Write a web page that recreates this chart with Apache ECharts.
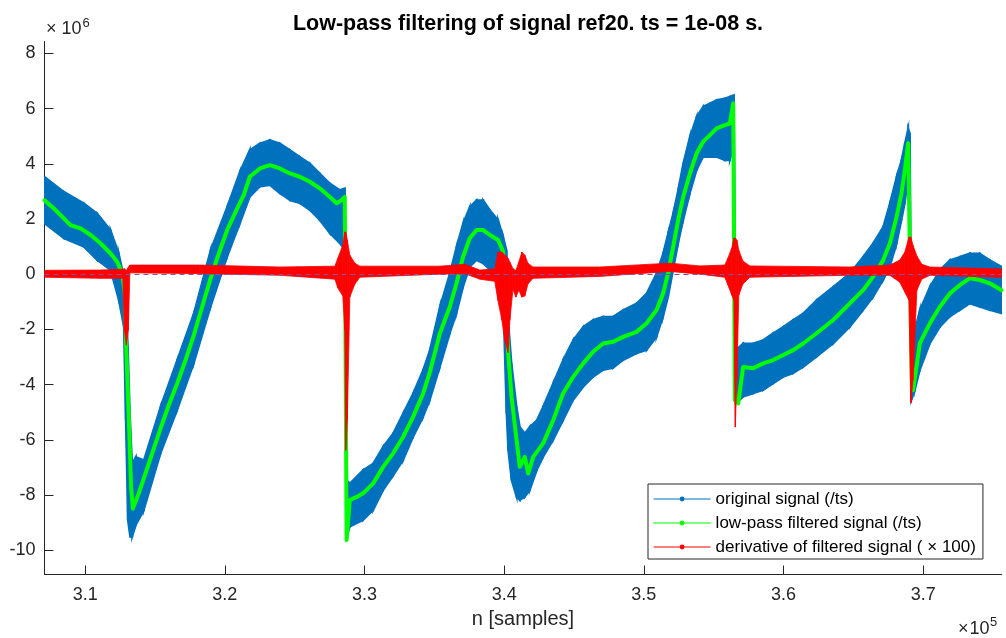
<!DOCTYPE html>
<html>
<head>
<meta charset="utf-8">
<script src="https://cdn.jsdelivr.net/npm/echarts@6/dist/echarts.min.js"></script>
<style>html,body{margin:0;padding:0;background:#fff}#c{width:1006px;height:638px}</style>
</head>
<body>
<div id="c"></div>
<script>
// ---- Tick labels (x in units of 1e5 samples, y in units of 1e6) ----
const xTicks = [3.1, 3.2, 3.3, 3.4, 3.5, 3.6, 3.7];
const yTicks = [-10, -8, -6, -4, -2, 0, 2, 4, 6, 8];

// ---- Low-pass filtered signal (/ts), x1e6 ----
const greenX = [3.0709,3.0776,3.0847,3.0895,3.0967,3.1039,3.1110,3.1182,3.1229,3.1265,
  3.1284,3.1294,3.1313,3.1329,3.1342,3.1384,3.1420,3.1480,3.1540,3.1599,
  3.1659,3.1719,3.1778,3.1838,3.1898,3.1957,3.2017,3.2077,3.2136,3.2179,
  3.2251,3.2322,3.2394,3.2466,3.2537,3.2609,3.2680,3.2752,3.2800,3.2836,
  3.2859,3.2872,3.2895,3.2943,3.2990,3.3062,3.3134,3.3205,3.3277,3.3348,
  3.3420,3.3468,3.3540,3.3611,3.3659,3.3706,3.3754,3.3802,3.3850,3.3898,
  3.3957,3.3993,3.4017,3.4029,3.4053,3.4089,3.4112,3.4148,3.4172,3.4208,
  3.4279,3.4351,3.4422,3.4494,3.4566,3.4637,3.4709,3.4780,3.4852,3.4948,
  3.5020,3.5091,3.5138,3.5174,3.5210,3.5246,3.5282,3.5330,3.5378,3.5425,
  3.5473,3.5521,3.5580,3.5616,3.5640,3.5652,3.5676,3.5711,3.5783,3.5854,
  3.5926,3.5998,3.6069,3.6141,3.6237,3.6356,3.6475,3.6570,3.6642,3.6714,
  3.6762,3.6810,3.6845,3.6869,3.6893,3.6919,3.6928,3.6976,3.7048,3.7120,
  3.7191,3.7263,3.7334,3.7406,3.7477,3.7561];
const greenY = [2.68,2.38,2.02,1.78,1.66,1.42,1.12,0.75,0.45,0.03,
  -0.70,-2.63,-5.29,-7.70,-8.49,-7.94,-7.40,-6.49,-5.59,-4.74,
  -3.96,-3.11,-2.21,-1.18,-0.15,0.75,1.60,2.26,2.87,3.53,
  3.83,3.95,3.83,3.65,3.53,3.35,3.11,2.80,2.57,2.68,
  2.80,-9.63,-8.18,-8.07,-7.94,-7.58,-6.98,-6.49,-5.89,-5.17,
  -4.32,-3.55,-2.14,-1.18,-0.33,0.63,1.30,1.60,1.60,1.42,
  1.24,0.81,-1.78,-2.87,-4.44,-6.01,-6.98,-6.62,-7.22,-6.62,
  -6.13,-5.29,-4.32,-3.72,-3.23,-2.81,-2.51,-2.45,-2.27,-2.09,
  -1.78,-1.30,-0.70,0.03,0.99,1.96,2.80,3.65,4.38,4.80,
  5.04,5.28,5.40,5.46,6.19,-4.56,-4.68,-3.36,-3.41,-3.23,
  -3.11,-2.93,-2.75,-2.51,-2.14,-1.66,-1.06,-0.58,-0.09,0.51,
  1.12,2.08,2.93,3.77,4.74,-4.08,-4.20,-2.51,-1.78,-1.18,
  -0.70,-0.39,-0.15,-0.21,-0.33,-0.58];

// ---- Original signal (/ts): noisy band, upper / lower envelope, x1e6 ----
const blueX = [3.0709,3.0847,3.0991,3.1086,3.1182,3.1241,3.1277,3.1291,3.1306,3.1322,
  3.1337,3.1363,3.1420,3.1540,3.1659,3.1778,3.1898,3.2017,3.2108,3.2179,
  3.2251,3.2322,3.2394,3.2466,3.2537,3.2609,3.2680,3.2752,3.2824,3.2859,
  3.2872,3.2895,3.2990,3.3062,3.3134,3.3205,3.3277,3.3348,3.3420,3.3468,
  3.3540,3.3611,3.3659,3.3706,3.3754,3.3802,3.3850,3.3898,3.3957,3.3993,
  3.4017,3.4029,3.4053,3.4089,3.4112,3.4148,3.4184,3.4234,3.4279,3.4351,
  3.4422,3.4494,3.4566,3.4637,3.4709,3.4780,3.4852,3.4948,3.5020,3.5091,
  3.5138,3.5174,3.5210,3.5246,3.5282,3.5330,3.5378,3.5425,3.5473,3.5521,
  3.5580,3.5616,3.5645,3.5659,3.5711,3.5783,3.5854,3.5926,3.5998,3.6069,
  3.6141,3.6237,3.6356,3.6475,3.6570,3.6642,3.6714,3.6762,3.6810,3.6845,
  3.6869,3.6893,3.6905,3.6916,3.6941,3.6976,3.7048,3.7120,3.7191,3.7263,
  3.7334,3.7406,3.7477,3.7561];
const blueHi = [3.53,2.99,2.57,2.20,1.60,0.75,-0.09,-0.94,-2.63,-5.29,
  -6.86,-6.62,-6.74,-4.80,-3.11,-1.42,0.87,2.44,3.71,4.50,
  4.74,4.86,4.74,4.50,4.25,4.01,3.65,3.29,3.05,3.11,
  -7.46,-7.58,-7.10,-6.86,-6.25,-5.77,-5.04,-4.32,-3.47,-2.75,
  -1.18,0.03,0.99,1.84,2.44,2.68,2.68,2.32,1.96,1.36,
  0.87,-1.66,-3.23,-4.80,-5.53,-5.77,-5.53,-5.29,-4.80,-3.95,
  -3.11,-2.39,-1.91,-1.66,-1.54,-1.54,-1.30,-1.06,-0.70,0.03,
  0.75,1.48,2.20,3.05,4.01,4.98,5.70,6.07,6.19,6.31,
  6.37,6.43,6.49,-2.75,-2.51,-2.51,-2.39,-2.14,-1.91,-1.66,
  -1.42,-0.94,-0.46,0.03,0.63,1.12,1.72,2.57,3.53,4.13,
  4.74,5.28,5.10,-2.39,-2.03,-1.30,-0.46,0.15,0.51,0.63,
  0.75,0.75,0.51,0.27];
const blueLo = [1.84,1.30,0.99,0.51,0.15,-0.94,-1.91,-5.29,-8.91,-9.51,
  -9.51,-9.09,-8.55,-6.49,-4.92,-3.23,-1.18,0.63,1.84,2.80,
  3.17,3.23,2.93,2.68,2.57,2.32,1.96,1.48,1.12,0.87,
  -9.51,-9.15,-8.91,-8.55,-7.82,-7.30,-6.74,-5.90,-5.17,-4.56,
  -3.36,-2.14,-1.42,-0.46,0.27,0.51,0.39,0.15,-0.21,-0.94,
  -5.04,-6.38,-7.46,-8.07,-8.18,-8.07,-7.82,-7.10,-6.62,-6.01,
  -5.29,-4.56,-4.08,-3.72,-3.47,-3.40,-3.11,-2.87,-2.75,-2.27,
  -1.54,-0.82,0.15,1.12,1.96,2.93,3.77,4.25,4.25,4.25,
  4.13,4.13,4.62,-4.68,-4.44,-4.32,-4.20,-3.96,-3.72,-3.59,
  -3.36,-2.99,-2.51,-1.91,-1.30,-0.82,-0.21,0.27,1.12,1.96,
  2.57,3.53,2.68,-4.56,-4.20,-3.48,-2.51,-1.91,-1.54,-1.30,
  -1.06,-1.18,-1.30,-1.42];

// ---- Derivative of filtered signal (x100): band upper / lower, x1e6 ----
const redX = [3.0709,3.1105,3.1270,3.1281,3.1295,3.1309,3.1320,3.1821,3.2394,3.2788,
  3.2809,3.2845,3.2859,3.2866,3.2877,3.2895,3.2931,3.2967,3.3540,3.3719,
  3.3826,3.3933,3.3955,3.3984,3.4005,3.4027,3.4041,3.4063,3.4084,3.4105,
  3.4127,3.4148,3.4170,3.4206,3.4685,3.5186,3.5401,3.5580,3.5602,3.5630,
  3.5645,3.5655,3.5666,3.5680,3.5709,3.5759,3.6475,3.6762,3.6833,3.6869,
  3.6898,3.6912,3.6927,3.6955,3.6990,3.7048,3.7561];
const redHi = [0.14,0.15,0.18,0.20,0.13,0.25,0.33,0.33,0.26,0.29,
  0.58,1.05,1.53,1.53,1.24,0.69,0.40,0.29,0.29,0.36,
  0.15,0.19,0.80,0.80,0.69,0.58,0.44,0.20,0.13,0.44,
  0.80,0.69,0.40,0.26,0.26,0.40,0.30,0.33,0.58,0.95,
  1.31,1.31,1.24,0.87,0.48,0.30,0.26,0.33,0.51,0.80,
  1.34,1.34,1.05,0.66,0.36,0.26,0.19];
const redLo = [-0.11,-0.15,-0.15,-2.03,-2.57,-2.03,0.05,0.02,-0.04,-0.18,
  -0.50,-0.79,-2.03,-6.38,-5.29,-0.83,-0.36,-0.11,0.00,0.02,
  -0.18,-0.26,-0.94,-1.67,-2.40,-2.84,-1.67,-0.55,-0.83,-0.58,
  -0.83,-0.79,-0.36,-0.15,-0.08,0.10,0.00,-0.11,-0.39,-0.76,
  -0.94,-5.54,-3.84,-0.76,-0.36,-0.11,-0.04,-0.04,-0.29,-0.65,
  -0.94,-4.67,-3.84,-0.58,-0.18,-0.04,-0.11];

const seriesNames = ['original signal (/ts)', 'low-pass filtered signal (/ts)', 'derivative of filtered signal ( \u00d7 100)'];

// ---- styles ----
const FONT = '"Liberation Sans", Arial, Helvetica, sans-serif';
const BLUE = '#0072BD', GREEN = '#00FF00', RED = '#FF0000', AX = '#262626';

function bandSegments(xs, hi, lo) {
  const out = [];
  for (let i = 0; i < xs.length - 1; i++) out.push([xs[i], hi[i], lo[i], xs[i + 1], hi[i + 1], lo[i + 1]]);
  return out;
}
function bandRender(color, lw) {
  return function (params, api) {
    const a = api.coord([api.value(0), api.value(1)]);
    const b = api.coord([api.value(3), api.value(4)]);
    const c = api.coord([api.value(3), api.value(5)]);
    const d = api.coord([api.value(0), api.value(2)]);
    return { type: 'polygon', shape: { points: [a, b, c, d] }, style: { fill: color, stroke: color, lineWidth: lw } };
  };
}

const chart = echarts.init(document.getElementById('c'), null, { renderer: 'canvas' });
chart.setOption({
  animation: false,
  backgroundColor: '#fff',
  grid: { left: 44.5, right: 4.5, top: 41.5, bottom: 63.5, containLabel: false },
  xAxis: {
    type: 'value', min: 3.0709, max: 3.7561,
    name: 'n [samples]', nameLocation: 'middle', nameGap: 29,
    nameTextStyle: { fontSize: 20, color: AX, fontFamily: FONT },
    axisLine: { onZero: false, lineStyle: { color: AX, width: 1 } },
    axisTick: { inside: true, length: 9, customValues: xTicks, lineStyle: { color: AX } },
    axisLabel: { customValues: xTicks, fontSize: 18, color: AX, fontFamily: FONT, margin: 12,
      formatter: v => v.toFixed(1) },
    splitLine: { show: false }
  },
  yAxis: {
    type: 'value', min: -10.88, max: 8.43,
    axisLine: { show: true, onZero: false, lineStyle: { color: AX, width: 1 } },
    axisTick: { show: true, inside: true, length: 9, customValues: yTicks, lineStyle: { color: AX } },
    axisLabel: { customValues: yTicks, fontSize: 18, color: AX, fontFamily: FONT, margin: 9,
      formatter: v => String(v) },
    splitLine: { show: false }
  },
  legend: {
    data: seriesNames, orient: 'vertical', left: 648, top: 484,
    itemWidth: 57, itemHeight: 6, itemGap: 7,
    padding: [6.5, 7, 3.5, 5],
    backgroundColor: '#fff', borderColor: AX, borderWidth: 1, borderRadius: 0,
    selectedMode: false,
    lineStyle: { width: 1.2 },
    textStyle: { fontSize: 17, color: '#000', fontFamily: FONT }
  },
  graphic: [
    { type: 'text', x: 528, y: 24, style: { text: 'Low-pass filtering of signal ref20. ts = 1e-08 s.', font: 'bold 21.5px ' + FONT, fill: '#000', align: 'center', textAlign: 'center', verticalAlign: 'middle', textVerticalAlign: 'middle' } },
    { type: 'text', x: 46, y: 29, style: { text: '\u00d7', font: '18px ' + FONT, fill: AX, verticalAlign: 'middle', textVerticalAlign: 'middle' } },
    { type: 'text', x: 61.5, y: 29, style: { text: '10', font: '18px ' + FONT, fill: AX, verticalAlign: 'middle', textVerticalAlign: 'middle' } },
    { type: 'text', x: 82.5, y: 23.5, style: { text: '6', font: '13px ' + FONT, fill: AX, verticalAlign: 'middle', textVerticalAlign: 'middle' } },
    { type: 'text', x: 958, y: 629, style: { text: '\u00d7', font: '18px ' + FONT, fill: AX, verticalAlign: 'middle', textVerticalAlign: 'middle' } },
    { type: 'text', x: 969.5, y: 629, style: { text: '10', font: '18px ' + FONT, fill: AX, verticalAlign: 'middle', textVerticalAlign: 'middle' } },
    { type: 'text', x: 990, y: 622, style: { text: '5', font: '13px ' + FONT, fill: AX, verticalAlign: 'middle', textVerticalAlign: 'middle' } }
  ],
  series: [
    // legend entries (line + dot icons)
    { name: seriesNames[0], type: 'line', data: [], symbol: 'circle', symbolSize: 5,
      itemStyle: { color: BLUE }, lineStyle: { color: BLUE, width: 1 } },
    { name: seriesNames[1], type: 'line', z: 3, silent: true,
      data: greenX.map((x, i) => [x, greenY[i]]),
      symbol: 'circle', symbolSize: 5, showSymbol: false,
      itemStyle: { color: GREEN }, lineStyle: { color: GREEN, width: 4, join: 'round', cap: 'round' } },
    { name: seriesNames[2], type: 'line', data: [], symbol: 'circle', symbolSize: 5,
      itemStyle: { color: RED }, lineStyle: { color: RED, width: 1 } },
    // bands drawn through the axes
    { name: 'blueBand', type: 'custom', z: 2, silent: true, clip: true,
      renderItem: bandRender(BLUE, 2),
      encode: { x: [0, 3], y: [1, 2, 4, 5] },
      data: bandSegments(blueX, blueHi, blueLo),
      markLine: { silent: true, symbol: 'none', label: { show: false },
        lineStyle: { color: '#7a55a8', type: [5, 4], width: 1 },
        data: [{ yAxis: 0 }] } },
    { name: 'redBand', type: 'custom', z: 4, silent: true, clip: true,
      renderItem: bandRender(RED, 0.8),
      encode: { x: [0, 3], y: [1, 2, 4, 5] },
      data: bandSegments(redX, redHi, redLo) }
  ]
});
</script>
</body>
</html>
